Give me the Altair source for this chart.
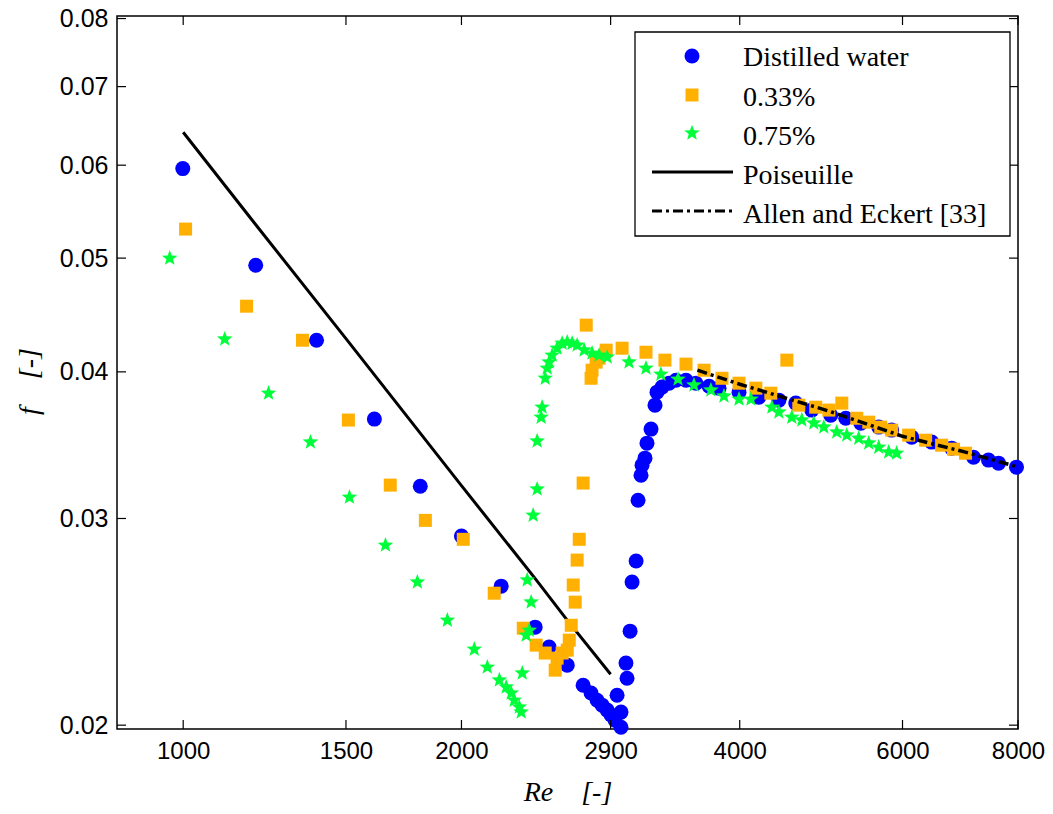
import altair as alt
import pandas as pd

# ---------------- data ----------------
water_re = [999, 1198, 1394, 1610, 1805, 2000, 2208, 2403, 2488, 2603, 2708, 2762, 2804, 2839,
            2875, 2903, 2932, 2976, 2947, 2976, 3013, 3021, 3044, 3059, 3090, 3105, 3128, 3136,
            3159, 3175, 3207, 3239, 3255, 3296, 3354, 3413, 3499, 3587, 3706, 3799, 3993, 4195,
            4410, 4599, 4786, 5018, 5209, 5408, 5655, 5840, 6139, 6452, 6781, 7161, 7433, 7621, 7970]
water_f = [0.0596, 0.0493, 0.04256, 0.03646, 0.03196, 0.02898, 0.02627, 0.02424, 0.02331, 0.0225,
           0.02163, 0.0213, 0.0210, 0.0208, 0.0206, 0.0204, 0.0202, 0.01992, 0.02121, 0.02052,
           0.02259, 0.02193, 0.02405, 0.02648, 0.0276, 0.03109, 0.03266, 0.03331, 0.03377, 0.03478,
           0.03575, 0.03747, 0.03844, 0.03882, 0.03912, 0.03935, 0.03935, 0.03912, 0.03889, 0.03874,
           0.03844, 0.03806, 0.03784, 0.03762, 0.03711, 0.03674, 0.03652, 0.03617, 0.03589, 0.03568,
           0.03519, 0.03485, 0.03444, 0.03383, 0.03364, 0.03344, 0.03318]

p033_re = [1006, 1171, 1346, 1509, 1675, 1828, 2009, 2170, 2333, 2409, 2464, 2526, 2538, 2570,
           2603, 2616, 2629, 2655, 2642, 2668, 2682, 2708, 2729, 2762, 2769, 2797, 2818, 2868,
           2984, 3167, 3320, 3499, 3660, 3827, 3993, 4164, 4322, 4498, 4634, 4834, 4994, 5158,
           5354, 5516, 5683, 5840, 6092, 6356, 6614, 6813, 7020]
p033_f = [0.05293, 0.0455, 0.04256, 0.03639, 0.03203, 0.02989, 0.0288, 0.02591, 0.02419, 0.0234,
          0.02304, 0.02228, 0.02281, 0.02304, 0.02317, 0.02363, 0.02433, 0.02546, 0.02633, 0.02765,
          0.0288, 0.03216, 0.04384, 0.0395, 0.04013, 0.04077, 0.04109, 0.04174, 0.0419, 0.04157,
          0.04093, 0.04061, 0.04013, 0.0395, 0.03912, 0.03874, 0.03836, 0.04093, 0.03747, 0.03732,
          0.03711, 0.03762, 0.03652, 0.03624, 0.03589, 0.03568, 0.03533, 0.03498, 0.03464, 0.03437,
          0.0341]

p075_re = [967, 1109, 1237, 1373, 1513, 1655, 1792, 1931, 2065, 2133, 2198, 2236, 2264, 2281,
           2310, 2321, 2327, 2350, 2368, 2356, 2379, 2391, 2415, 2415, 2439, 2445, 2464, 2476,
           2488, 2507, 2538, 2570, 2603, 2635, 2668, 2715, 2769, 2818, 2875, 3036, 3167, 3287,
           3430, 3569, 3723, 3846, 3993, 4113, 4334, 4410, 4554, 4669, 4810, 4932, 5093, 5222,
           5380, 5516, 5655, 5797, 5913]
p075_f = [0.04999, 0.04265, 0.03836, 0.03485, 0.03128, 0.02847, 0.02648, 0.02457, 0.02321, 0.02241,
          0.02185, 0.02155, 0.0213, 0.0210, 0.02072, 0.02052, 0.02215, 0.02386, 0.02409, 0.02659,
          0.02546, 0.03019, 0.03178, 0.03492, 0.03659, 0.03732, 0.0395, 0.04029, 0.04077, 0.04133,
          0.0419, 0.04231, 0.0424, 0.04231, 0.04215, 0.04174, 0.04149, 0.04133, 0.04117, 0.04077,
          0.04029, 0.03981, 0.03943, 0.03897, 0.03859, 0.03814, 0.03791, 0.03791, 0.03732, 0.03696,
          0.03659, 0.03639, 0.03617, 0.03589, 0.03554, 0.03533, 0.03511, 0.03478, 0.0345, 0.03417,
          0.0341]

pois_re = [1000, 1200, 1500, 2000, 2400, 2600, 2900]
pois_f = [0.064, 0.0533, 0.0427, 0.0320, 0.0267, 0.0246, 0.0221]

allen_re = [3600, 4000, 5000, 6000, 7000, 8000]
allen_f = [0.04013, 0.03904, 0.03703, 0.03525, 0.03419, 0.03319]

x_ticks = [1000, 1500, 2000, 2900, 4000, 6000, 8000]
y_ticks = [0.02, 0.03, 0.04, 0.05, 0.06, 0.07, 0.08]

labels = ["Distilled water", "0.33%", "0.75%", "Poiseuille", "Allen and Eckert [33]"]

# ---------------- styling ----------------
W, H = 901, 713
BLUE, ORANGE, GREEN = "#0000FF", "#FFB000", "#00FF3A"
STAR = ("M0,-1L0.247,-0.340L0.951,-0.309L0.399,0.130L0.588,0.809L0,0.42"
        "L-0.588,0.809L-0.399,0.130L-0.951,-0.309L-0.247,-0.340Z")
SANS = "Liberation Sans"
SERIF = "Liberation Serif"
SP = "\u00a0\u00a0\u00a0\u00a0"

xscale = alt.Scale(type="log", domain=[848, 8000], nice=False)
yscale = alt.Scale(type="log", domain=[0.01985, 0.0804], nice=False)

xaxis = alt.Axis(values=x_ticks, format="d", ticks=False, domain=False, grid=False,
                 labelFont=SANS, labelFontSize=24, labelColor="black", labelPadding=10,
                 labelFlush=False, labelOverlap=False,
                 title="Re" + SP + "[-]", titleFont=SERIF, titleFontStyle="italic",
                 titleFontWeight="normal", titleFontSize=28, titleColor="black",
                 titleY=71, titleBaseline="alphabetic")
yaxis = alt.Axis(values=y_ticks, format=".2f", ticks=False, domain=False, grid=False,
                 labelFont=SANS, labelFontSize=25, labelColor="black", labelPadding=9,
                 labelOverlap=False,
                 title="f" + SP + "[-]", titleFont=SERIF, titleFontStyle="italic",
                 titleFontWeight="normal", titleFontSize=28, titleColor="black",
                 titleX=-80, titleY=365, titleBaseline="alphabetic", titleAlign="center")


def scatter(xs, ys, shape, color, size):
    df = pd.DataFrame({"Re": xs, "f": ys})
    return alt.Chart(df).mark_point(shape=shape, filled=True, color=color, size=size,
                                    opacity=1, clip=False).encode(
        x=alt.X("Re:Q", scale=xscale, axis=xaxis),
        y=alt.Y("f:Q", scale=yscale, axis=yaxis),
    )


def curve(xs, ys, dash, width):
    df = pd.DataFrame({"Re": xs, "f": ys})
    kw = dict(color="black", strokeWidth=width)
    if dash:
        kw["strokeDash"] = dash
    return alt.Chart(df).mark_line(**kw).encode(
        x=alt.X("Re:Q", scale=xscale), y=alt.Y("f:Q", scale=yscale))


tick_len = 9
xt = pd.DataFrame({"Re": x_ticks})
yt = pd.DataFrame({"f": y_ticks})
ticks = [
    alt.Chart(xt).mark_rule(color="black", strokeWidth=1.2).encode(
        x=alt.X("Re:Q", scale=xscale), y=alt.value(H), y2=alt.value(H - tick_len)),
    alt.Chart(xt).mark_rule(color="black", strokeWidth=1.2).encode(
        x=alt.X("Re:Q", scale=xscale), y=alt.value(0), y2=alt.value(tick_len)),
    alt.Chart(yt).mark_rule(color="black", strokeWidth=1.2).encode(
        y=alt.Y("f:Q", scale=yscale), x=alt.value(0), x2=alt.value(tick_len)),
    alt.Chart(yt).mark_rule(color="black", strokeWidth=1.2).encode(
        y=alt.Y("f:Q", scale=yscale), x=alt.value(W), x2=alt.value(W - tick_len)),
]

# ---------------- manual legend ----------------
LB = dict(x0=518, y0=16, x1=893, y1=220)
row_text_y = [42, 82, 121, 160, 199]
row_sym_y = [40, 79, 117, 156, 195]
sym_x = 575
text_x = 626

legend_layers = [
    alt.Chart(pd.DataFrame({"a": [0]})).mark_rect(fill="white", stroke="black", strokeWidth=1.3).encode(
        x=alt.value(LB["x0"]), x2=alt.value(LB["x1"]), y=alt.value(LB["y0"]), y2=alt.value(LB["y1"]))
]
sym_specs = [("circle", BLUE, 225), ("square", ORANGE, 169), (STAR, GREEN, 270)]
for i, (shp, col, sz) in enumerate(sym_specs):
    legend_layers.append(
        alt.Chart(pd.DataFrame({"label": [labels[i]]})).mark_point(
            shape=shp, filled=True, color=col, size=sz, opacity=1).encode(
            x=alt.value(sym_x), y=alt.value(row_sym_y[i])))
for i, dash in [(3, None), (4, [10, 4, 3, 4])]:
    kw = dict(color="black", strokeWidth=3)
    if dash:
        kw["strokeDash"] = dash
    legend_layers.append(
        alt.Chart(pd.DataFrame({"label": [labels[i]]})).mark_rule(**kw).encode(
            x=alt.value(535), x2=alt.value(616), y=alt.value(row_sym_y[i])))
for i, lab in enumerate(labels):
    legend_layers.append(
        alt.Chart(pd.DataFrame({"label": [lab]})).mark_text(
            font=SERIF, fontSize=28, align="left", baseline="middle", color="black").encode(
            x=alt.value(text_x), y=alt.value(row_text_y[i]), text="label:N"))

chart = alt.layer(
    curve(pois_re, pois_f, None, 3),
    scatter(water_re, water_f, "circle", BLUE, 225),
    scatter(p033_re, p033_f, "square", ORANGE, 169),
    scatter(p075_re, p075_f, STAR, GREEN, 270),
    curve(allen_re, allen_f, [10, 4, 3, 4], 3.5),
    *ticks,
    *legend_layers,
).properties(
    width=W, height=H,
    autosize=alt.AutoSizeParams(type="none"),
    padding={"left": 109, "top": 8, "right": 27, "bottom": 80},
    background="white",
).configure_view(stroke="black", strokeWidth=1.5)

chart.save("out.html", embed_options={"renderer": "svg", "actions": False})
